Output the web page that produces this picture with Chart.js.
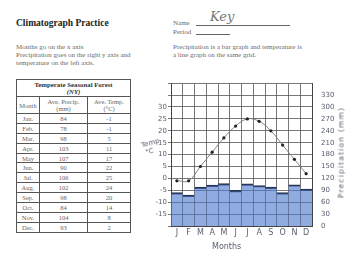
<!DOCTYPE html>
<html>
<head>
<meta charset="utf-8">
<script src="https://cdn.jsdelivr.net/npm/chart.js@4"></script>
<style>
  body { margin: 0; width: 350px; height: 258px; background: #fff; position: relative; overflow: hidden; font-family: "Liberation Serif", serif; }
  .abs { position: absolute; white-space: nowrap; }
  #title { left: 16px; top: 18px; font-size: 9.5px; font-weight: bold; color: #222; }
  .note { font-size: 7px; line-height: 8px; color: #6a6a6a; }
  table { position: absolute; left: 16px; top: 79px; width: 114px; border-collapse: collapse; table-layout: fixed; border: 1.5px solid #444; }
  td, th { border: 1px solid #555; padding: 0; text-align: center; font-size: 6.5px; color: #666; font-weight: normal; line-height: 7px; }
  tr.row td { height: 8.9px; }
  th.cap { font-weight: bold; color: #333; font-size: 6.8px; height: 16px; }
  .hand { font-family: "DejaVu Sans", sans-serif; color: #5a6070; }
  #chart { position: absolute; left: 140px; top: 78px; }
</style>
</head>
<body>
<div id="title" class="abs">Climatograph Practice</div>
<div class="abs note" style="left:16px;top:43px;">Months go on the x axis<br>Precipitation goes on the right y axis and<br>temperature on the left axis.</div>

<div class="abs note" style="left:173px;top:19px;">Name</div>
<div class="abs" style="left:196px;top:25px;width:94px;border-top:0.8px solid #666;"></div>
<div class="abs" style="left:210px;top:9px;font-size:13px;font-style:italic;color:#777;font-family:'DejaVu Serif',serif;">Key</div>
<div class="abs note" style="left:173px;top:28px;">Period</div>
<div class="abs" style="left:196px;top:34px;width:34px;border-top:0.8px solid #666;"></div>
<div class="abs note" style="left:173px;top:43px;">Precipitation is a bar graph and temperature is<br>a line graph on the same grid.</div>

<table>
  <colgroup><col style="width:23px"><col style="width:48px"><col style="width:43px"></colgroup>
  <tr><th class="cap" colspan="3">Temperate Seasonal Forest<br><i>(NY)</i></th></tr>
  <tr><td style="height:16px">Month</td><td>Ave. Precip.<br>(mm)</td><td>Ave. Temp.<br>(°C)</td></tr>
  <tbody id="rows"></tbody>
</table>

<canvas id="chart" width="210" height="168"></canvas>

<div class="abs hand" style="left:142px;top:139px;font-size:7px;line-height:8px;transform:rotate(-15deg);">Temp<br>&nbsp;°C</div>
<div class="abs hand" style="left:281px;top:148px;width:120px;text-align:center;font-size:7.5px;letter-spacing:1.2px;transform:rotate(-90deg);">Precipitation (mm)</div>
<div class="abs hand" style="left:212px;top:242px;font-size:8px;">Months</div>

<script>
const monthNames = ["Jan.", "Feb.", "Mar.", "Apr.", "May", "Jun.", "Jul.", "Aug.", "Sep.", "Oct.", "Nov.", "Dec."];
const monthLetters = ["J", "F", "M", "A", "M", "J", "J", "A", "S", "O", "N", "D"];
const precipMm = [84, 78, 98, 103, 107, 90, 106, 102, 98, 84, 104, 93];
const tempC = [-1, -1, 5, 11, 17, 22, 25, 24, 20, 14, 8, 2];
const tempTickLabels = [-15, -10, -5, 0, 5, 10, 15, 20, 25, 30];
const precipTickLabels = [0, 30, 60, 90, 120, 150, 180, 210, 240, 270, 300, 330];

// data table
const rows = document.getElementById("rows");
monthNames.forEach((m, i) => {
  const tr = document.createElement("tr");
  tr.className = "row";
  tr.innerHTML = "<td>" + m + "</td><td>" + precipMm[i] + "</td><td>" + tempC[i] + "</td>";
  rows.appendChild(tr);
});

const ink = "#5a6070";
const tickFont = { family: "DejaVu Sans", size: 7 };

new Chart(document.getElementById("chart"), {
  type: "bar",
  data: {
    labels: monthLetters,
    datasets: [
      {
        type: "line",
        data: tempC,
        yAxisID: "temp",
        borderColor: "#808080",
        borderWidth: 1,
        tension: 0.4,
        pointRadius: 1.6,
        pointBackgroundColor: "#222",
        pointBorderWidth: 0,
        order: 0,
      },
      {
        type: "bar",
        data: precipMm,
        yAxisID: "precip",
        backgroundColor: "rgba(75, 120, 205, 0.62)",
        borderColor: "#2a3350",
        borderWidth: { top: 1.5, left: 0, right: 0, bottom: 0 },
        barPercentage: 1,
        categoryPercentage: 1,
        order: 1,
      },
    ],
  },
  options: {
    responsive: false,
    animation: false,
    layout: { padding: { top: 5, left: 0, right: 0, bottom: 0 } },
    plugins: { legend: { display: false }, tooltip: { enabled: false } },
    scales: {
      x: {
        grid: { color: "#555", lineWidth: 0.8, offset: true, drawTicks: false },
        border: { color: "#444" },
        ticks: { color: ink, font: { family: "DejaVu Sans", size: 8 }, padding: 2, autoSkip: false, maxRotation: 0 },
        afterFit: (s) => { s.height = 20; },
      },
      temp: {
        position: "left",
        min: -20,
        max: 40,
        ticks: {
          stepSize: 5,
          autoSkip: false,
          color: ink,
          font: tickFont,
          padding: 1,
          callback: (v) => (tempTickLabels.includes(v) ? v : ""),
        },
        grid: { color: "#555", lineWidth: 0.8, tickLength: 3 },
        border: { color: "#444" },
        afterFit: (s) => { s.width = 31; },
      },
      precip: {
        position: "right",
        min: 0,
        max: 360,
        ticks: {
          stepSize: 30,
          autoSkip: false,
          color: ink,
          font: tickFont,
          padding: 1,
          callback: (v) => (precipTickLabels.includes(v) ? v : ""),
        },
        grid: { display: false },
        border: { color: "#444" },
        afterFit: (s) => { s.width = 38; },
      },
    },
  },
});
</script>
</body>
</html>
